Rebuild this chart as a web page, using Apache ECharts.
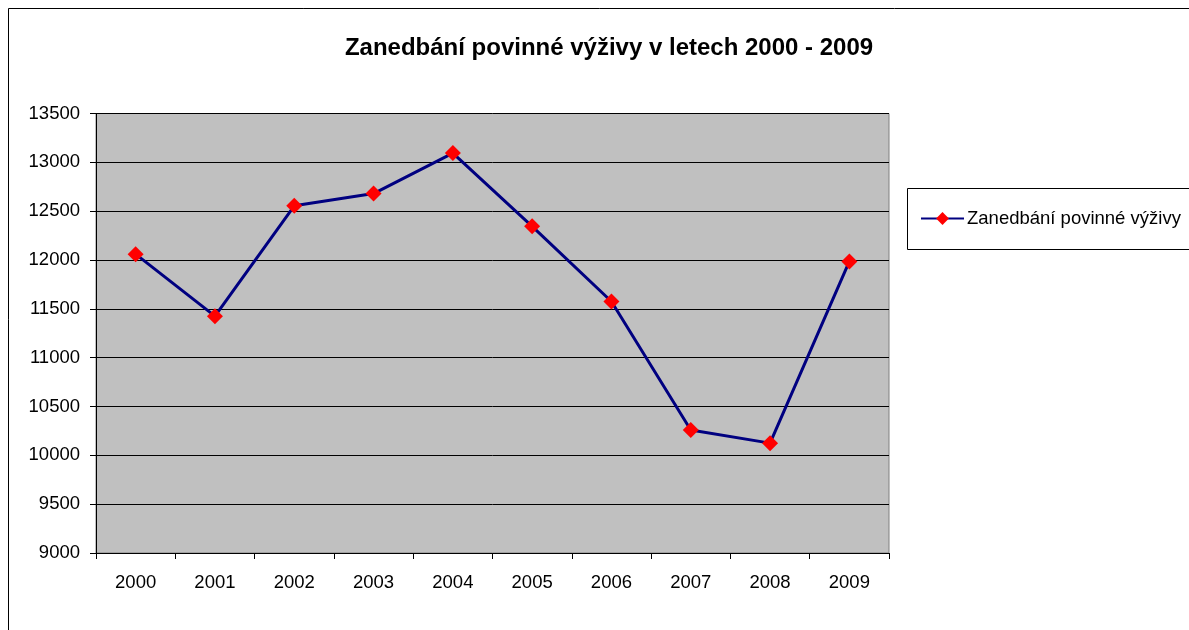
<!DOCTYPE html>
<html>
<head>
<meta charset="utf-8">
<script src="https://cdn.jsdelivr.net/npm/echarts@6/dist/echarts.min.js"></script>
<style>
  html, body { margin: 0; padding: 0; background: #fff; }
  #main { width: 1189px; height: 630px; }
</style>
</head>
<body>
<div id="main"></div>
<script>
var myChart = echarts.init(document.getElementById('main'));

var years = ['2000', '2001', '2002', '2003', '2004', '2005', '2006', '2007', '2008', '2009'];
var values = [12060, 11425, 12555, 12680, 13095, 12345, 11575, 10260, 10125, 11985];
var seriesName = 'Zanedbání povinné výživy';

var font = 'Liberation Sans, Arial, sans-serif';

var option = {
    animation: false,
    backgroundColor: '#ffffff',
    textStyle: { fontFamily: font },
    title: {
        text: 'Zanedbání povinné výživy v letech 2000 - 2009',
        left: 604,
        top: 31,
        textAlign: 'center',
        textStyle: { fontSize: 24, fontWeight: 'bold', color: '#000', fontFamily: font }
    },
    graphic: [{
        type: 'rect',
        shape: { x: 8.5, y: 8.5, width: 1300, height: 700 },
        style: { fill: 'none', stroke: '#000', lineWidth: 1 },
        silent: true,
        z: -10
    }, {
        type: 'rect',
        shape: { x: 907.5, y: 188.5, width: 400, height: 61 },
        style: { fill: 'none', stroke: '#000', lineWidth: 1 },
        silent: true
    }],
    legend: {
        left: 920,
        top: 209,
        padding: 0,
        itemWidth: 43,
        itemHeight: 16,
        itemGap: 4,
        textStyle: { fontSize: 18.5, color: '#000', fontFamily: font, padding: [0, 0, 0, -2] },
        data: [seriesName]
    },
    grid: {
        left: 96,
        right: 300,
        top: 113.5,
        bottom: 77,
        show: true,
        backgroundColor: '#c0c0c0',
        borderColor: '#808080',
        borderWidth: 1
    },
    xAxis: {
        type: 'category',
        data: years,
        boundaryGap: true,
        axisLine: { lineStyle: { color: '#000', width: 1 } },
        axisTick: { show: true, alignWithLabel: false, length: 6, lineStyle: { color: '#000' } },
        axisLabel: { fontSize: 18.5, color: '#000', margin: 20, fontFamily: font },
        splitLine: { show: false }
    },
    yAxis: {
        type: 'value',
        min: 9000,
        max: 13500,
        interval: 500,
        axisLine: { show: true, lineStyle: { color: '#000', width: 1 } },
        axisTick: { show: true, length: 6, lineStyle: { color: '#000' } },
        axisLabel: {
            fontSize: 18.5, color: '#000', margin: 16, fontFamily: font,
            formatter: function (v) { return String(v); }
        },
        splitLine: { show: true, lineStyle: { color: '#000', width: 1 } }
    },
    series: [{
        name: seriesName,
        type: 'line',
        data: values,
        symbol: 'diamond',
        symbolSize: 16,
        lineStyle: { color: '#000080', width: 3 },
        itemStyle: { color: '#ff0000', borderWidth: 0 },
        z: 3
    }]
};

myChart.setOption(option);
</script>
</body>
</html>
